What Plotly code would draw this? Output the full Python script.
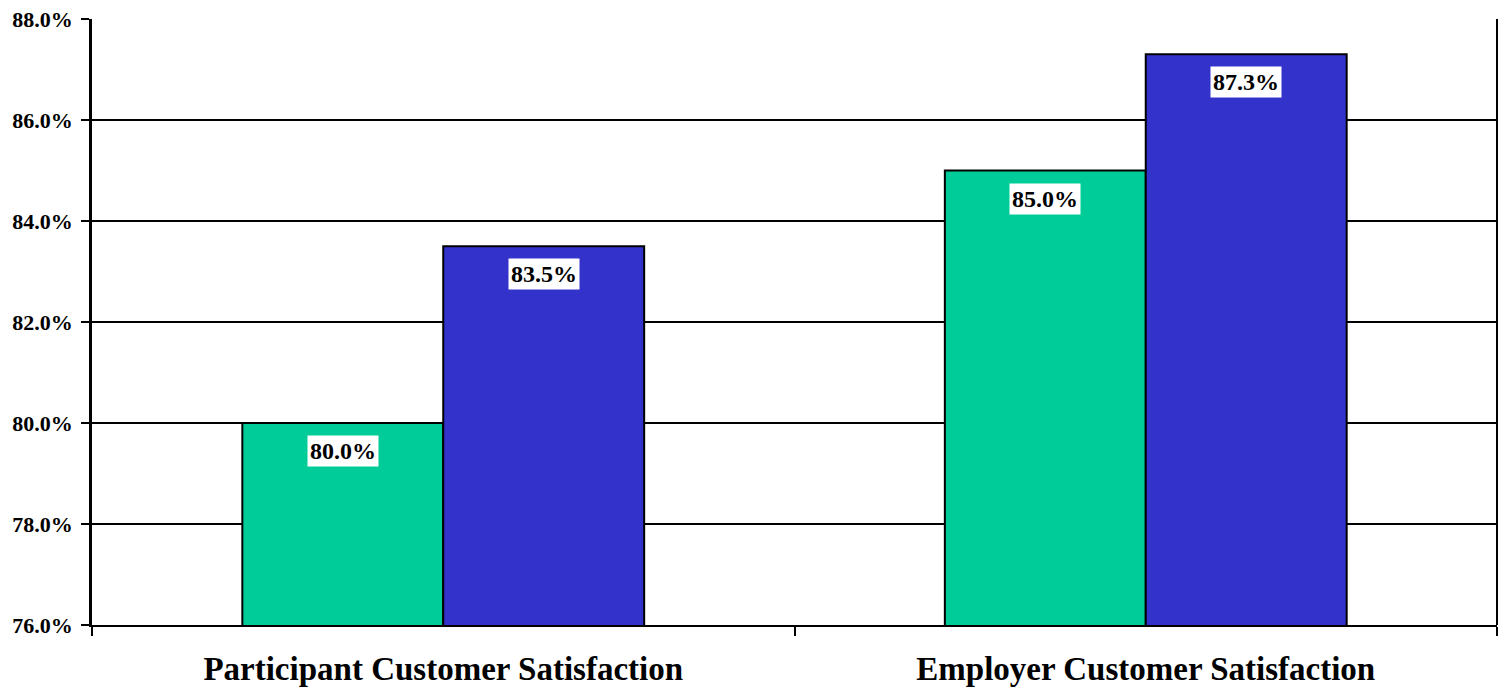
import plotly.graph_objects as go

categories = ["Participant Customer Satisfaction", "Employer Customer Satisfaction"]
series_a = [0.800, 0.850]   # green
series_b = [0.835, 0.873]   # blue
y_ticks = [0.76, 0.78, 0.80, 0.82, 0.84, 0.86, 0.88]

FONT = "Palatino Linotype, Book Antiqua, Palatino, Liberation Serif, serif"
BW = 0.286
xs = list(range(len(categories)))

fig = go.Figure()
fig.add_trace(go.Bar(x=xs, y=series_a, width=BW, offset=-BW, marker=dict(color="#00CC99", line=dict(color="black", width=2))))
fig.add_trace(go.Bar(x=xs, y=series_b, width=BW, offset=0, marker=dict(color="#3333CC", line=dict(color="black", width=2))))

for i in xs:
    for v, dx in ((series_a[i], -BW / 2), (series_b[i], BW / 2)):
        fig.add_annotation(x=i + dx, y=v, text="<b>%.1f%%</b>" % (v * 100), showarrow=False,
                           yanchor="top", yshift=-12, bgcolor="white", borderpad=2,
                           font=dict(family=FONT, size=24, color="black"))

fig.update_layout(
    width=1499, height=691, margin=dict(l=92, r=2, t=19, b=66),
    plot_bgcolor="white", paper_bgcolor="white", showlegend=False,
    font=dict(family=FONT, color="black"),
)
fig.update_xaxes(range=[-0.5, 1.5], tickvals=xs, ticktext=["<b>%s</b>" % c for c in categories],
                 ticks="", tickfont=dict(size=33, family=FONT), ticklabelstandoff=13, automargin=False,
                 showline=True, linecolor="black", linewidth=2, showgrid=False, zeroline=False,
                 minor=dict(tickvals=[-0.5, 0.5, 1.5], ticks="outside", ticklen=9, tickwidth=2, tickcolor="black"))
fig.update_yaxes(range=[0.76, 0.88], tickvals=y_ticks, ticktext=["<b>%.1f%%</b>" % (t * 100) for t in y_ticks],
                 ticks="outside", ticklen=8, tickwidth=2, tickcolor="black", tickfont=dict(size=22, family=FONT),
                 ticklabelstandoff=4, automargin=False,
                 showline=True, linecolor="black", linewidth=2.5, mirror=False,
                 showgrid=True, gridcolor="black", gridwidth=2, zeroline=False)
fig.add_shape(type="line", xref="paper", yref="paper", x0=1, x1=1, y0=0, y1=1, line=dict(color="black", width=2))
fig.write_html("out.html")
